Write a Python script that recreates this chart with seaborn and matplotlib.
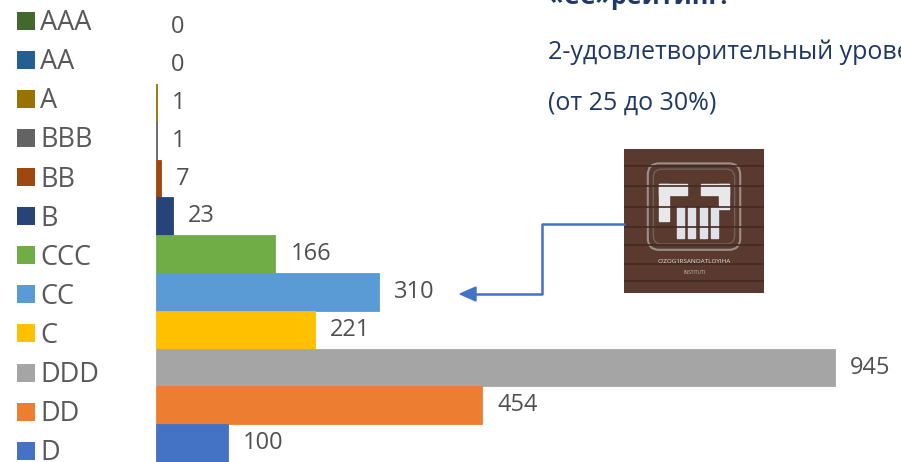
import matplotlib
matplotlib.use("Agg")
import matplotlib.pyplot as plt
from matplotlib.patches import Rectangle, FancyBboxPatch, Patch
from matplotlib.lines import Line2D
import seaborn as sns
import pandas as pd

# Data
ratings = ["AAA", "AA", "A", "BBB", "BB", "B", "CCC", "CC", "C", "DDD", "DD", "D"]
counts = [0, 0, 1, 1, 7, 23, 166, 310, 221, 945, 454, 100]
colors = ["#43682B", "#255E91", "#997300", "#636363", "#9E480E", "#264478",
          "#70AD47", "#5B9BD5", "#FFC000", "#A5A5A5", "#ED7D31", "#4472C4"]

title_line = "«СС»рейтинг:"
note_line1 = "2-удовлетворительный уровень"
note_line2 = "(от 25 до 30%)"

df = pd.DataFrame({"rating": ratings, "count": counts})

sns.set_style("white")
plt.rcParams["font.family"] = ["Open Sans", "DejaVu Sans"]

W, H = 901, 462
fig = plt.figure(figsize=(W / 100, H / 100), dpi=100)
ax = fig.add_axes([156 / W, 0, 745 / W, (H - 8.5) / H])

sns.barplot(data=df, x="count", y="rating", hue="rating", palette=colors,
            order=ratings, hue_order=ratings, width=1.0, orient="h",
            legend=False, ax=ax, saturation=1)
for p in ax.patches:
    if p.get_width() > 0:
        p.set_edgecolor(p.get_facecolor())
        p.set_linewidth(0.6)
    else:
        p.set_linewidth(0)

for cont in ax.containers:
    ax.bar_label(cont, padding=11, fontsize=17, color="#505050")

ax.set_xlim(0, 1037)
ax.set_ylim(len(ratings) - 0.5, -0.5)
ax.set_xlabel("")
ax.set_ylabel("")
ax.set_xticks([])
ax.set_yticks([])
sns.despine(ax=ax, left=True, bottom=True, top=True, right=True)

# legend at left
handles = [Patch(facecolor=c, edgecolor="none", label=r) for r, c in zip(ratings, colors)]
fig.legend(handles=handles, loc="upper left", bbox_to_anchor=(9 / W, 1 - 1 / H),
           frameon=False, fontsize=19.5, labelcolor="#595959",
           handlelength=0.65, handleheight=0.65, handletextpad=0.2,
           labelspacing=0.41, borderaxespad=0, borderpad=0.3)

# texts at top right
txt_color = "#203864"
fig.text(548 / W, 1 - (-3) / H, title_line, fontsize=18, fontweight="bold",
         color=txt_color, va="center", ha="left")
fig.text(548 / W, 1 - 52 / H, note_line1, fontsize=18, color=txt_color,
         va="center", ha="left")
fig.text(548 / W, 1 - 103 / H, note_line2, fontsize=18, color=txt_color,
         va="center", ha="left")

# logo placeholder
lx0, ly0, lx1, ly1 = 624, 149, 764, 293
lax = fig.add_axes([lx0 / W, 1 - ly1 / H, (lx1 - lx0) / W, (ly1 - ly0) / H])
lax.set_xlim(0, 1)
lax.set_ylim(0, 1)
lax.set_facecolor("#5a3a2e")
for yy in [0.08, 0.2, 0.33, 0.46, 0.6, 0.74, 0.88]:
    lax.axhline(yy, color="#442a21", lw=1.2)
lax.add_patch(FancyBboxPatch((0.17, 0.3), 0.66, 0.6,
                             boxstyle="round,pad=0.0,rounding_size=0.08",
                             fill=False, edgecolor="#9a8f8a", lw=1.5))
lax.add_patch(FancyBboxPatch((0.21, 0.34), 0.58, 0.52,
                             boxstyle="round,pad=0.0,rounding_size=0.06",
                             fill=False, edgecolor="#6e625d", lw=1))
lax.add_patch(Rectangle((0.25, 0.68), 0.2, 0.08, color="#e8e8ea"))
lax.add_patch(Rectangle((0.25, 0.5), 0.07, 0.26, color="#e8e8ea"))
lax.add_patch(Rectangle((0.55, 0.68), 0.2, 0.08, color="#e8e8ea"))
lax.add_patch(Rectangle((0.68, 0.58), 0.07, 0.18, color="#e8e8ea"))
for xx in [0.38, 0.46, 0.54, 0.62]:
    lax.add_patch(Rectangle((xx, 0.38), 0.05, 0.22, color="#dfe2ea"))
lax.text(0.5, 0.22, "O'ZOG'IRSANOATLOYIHA", fontsize=4.6, color="#e0e0e0",
         ha="center", va="center")
lax.text(0.5, 0.14, "INSTITUTI", fontsize=3.5, color="#c8c8c8",
         ha="center", va="center")
lax.set_xticks([])
lax.set_yticks([])
for s in lax.spines.values():
    s.set_visible(False)

# connector arrow from logo to CC bar
arrow_c = "#4472C4"
px = [lx0, 542, 542, 470]
py = [224, 224, 294, 294]
fig.add_artist(Line2D([p / W for p in px], [1 - p / H for p in py],
                      color=arrow_c, lw=1.8, transform=fig.transFigure))
fig.add_artist(plt.Polygon([(460 / W, 1 - 294 / H), (476 / W, 1 - 287 / H),
                            (476 / W, 1 - 301 / H)], closed=True,
                           color=arrow_c, transform=fig.transFigure))

fig.savefig("out.png", dpi=100)
